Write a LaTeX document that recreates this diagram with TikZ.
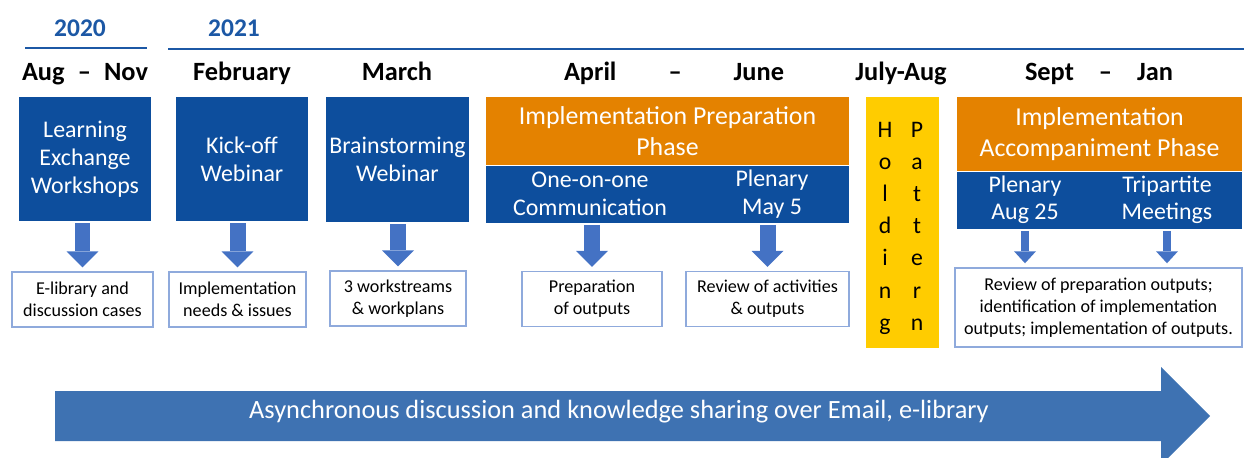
\documentclass[tikz,border=0pt]{standalone}
\usepackage{fontspec}
\setmainfont{Carlito}
\usetikzlibrary{arrows.meta, positioning}

\definecolor{boxblue}{RGB}{13,78,157}
\definecolor{phaseorange}{RGB}{228,130,0}
\definecolor{holdyellow}{RGB}{255,204,0}
\definecolor{arrowblue}{RGB}{68,114,196}
\definecolor{sharefill}{RGB}{62,114,178}
\definecolor{outblue}{RGB}{143,170,220}
\definecolor{yearblue}{RGB}{28,88,165}

\begin{document}
\begin{tikzpicture}[x=0.02cm, y=-0.02cm,
    year/.style={font=\fontsize{14.5}{16}\selectfont\bfseries, text=yearblue},
    month/.style={anchor=base, font=\fontsize{15}{17}\selectfont\bfseries},
    event/.style={rectangle, fill=boxblue, text=white, align=center, inner sep=0pt, font=\fontsize{13.6}{15.9}\selectfont},
    phase/.style={rectangle, fill=phaseorange, text=white, align=center, inner sep=0pt, font=\fontsize{14.7}{18}\selectfont},
    band/.style={rectangle, fill=boxblue, inner sep=0pt, minimum height=1.14cm},
    sub/.style={text=white, align=center, inner sep=0pt, font=\fontsize{13.6}{15.6}\selectfont},
    result/.style={rectangle, draw=outblue, line width=0.8pt, fill=white, align=center, inner sep=0pt, minimum height=1.1cm, font=\fontsize{10.3}{12.4}\selectfont},
    letter/.style={anchor=base, inner sep=0pt, font=\fontsize{13.5}{15}\selectfont},
    down/.style={draw=arrowblue, line width=0.32cm, shorten <=1pt, shorten >=2.3pt,
        -{Triangle[length=0.32cm, width=0.64cm, line width=0pt, fill=arrowblue]}},
    downthin/.style={draw=arrowblue, line width=0.16cm, shorten <=1pt, shorten >=2.3pt,
        -{Triangle[length=0.24cm, width=0.44cm, line width=0pt, fill=arrowblue]}}
]
    \useasboundingbox (0,0) rectangle (1244,457);

    % Years
    \node[year] (y20) at (80,28) {2020};
    \node[year] (y21) at (234,28) {2021};
    \draw[yearblue, line width=0.04cm] (25,48) -- (147,48);
    \draw[yearblue, line width=0.04cm] (168,49) -- (1244,49);

    % Months
    \node[month] (mAug) at (85,80) {\makebox[2.52cm]{Aug\hfill–\hfill Nov}};
    \node[month] (mFeb) at (242,80) {February};
    \node[month] (mMar) at (397,80) {March};
    \node[month] (mApr) at (674,80) {\makebox[4.4cm]{April\hfill–\hfill June}};
    \node[month] (mJul) at (901,80) {July-Aug};
    \node[month] (mSep) at (1099,80) {\makebox[2.96cm]{Sept\hfill–\hfill Jan}};

    % Events
    \node[event, minimum width=2.64cm, minimum height=2.48cm] (learn) at (85,159) {Learning\\Exchange\\Workshops};
    \node[event, minimum width=2.64cm, minimum height=2.48cm] (kick) at (242,159) {Kick-off\\Webinar};
    \node[event, minimum width=2.86cm, minimum height=2.5cm] (brain) at (397.5,159.5) {Brainstorming\\Webinar};

    % Preparation phase
    \node[phase, minimum width=7.26cm, minimum height=1.36cm] (prep) at (667.5,131) {Implementation Preparation\\Phase};
    \node[band, minimum width=7.26cm, below=0pt of prep] (prepband) {};
    \node[sub] (oneone) at (590,194) {One-on-one\\Communication};
    \node[sub] (plenA) at (772,194) {Plenary\\May 5};

    % Holding pattern
    \node[rectangle, fill=holdyellow, minimum width=1.46cm, minimum height=5.02cm] (hold) at (902.5,222.5) {};
    \foreach \c [count=\i from 0] in {H,o,l,d,i,n,g}
        \node[letter] (hl\i) at (885,137+32.2*\i) {\c};
    \foreach \c [count=\i from 0] in {P,a,t,t,e,r,n}
        \node[letter] (pl\i) at (917,137+32.2*\i) {\c};

    % Accompaniment phase
    \node[phase, minimum width=5.7cm, minimum height=1.48cm] (accomp) at (1099.5,134) {Implementation\\Accompaniment Phase};
    \node[band, minimum width=5.7cm, below=0pt of accomp] (accband) {};
    \node[sub] (plenB) at (1025,200) {Plenary\\Aug 25};
    \node[sub] (tri) at (1167,200) {Tripartite\\Meetings};

    % Results
    \node[result, minimum width=2.82cm] (elib) at (82.5,299.5) {E-library and\\discussion cases};
    \node[result, minimum width=2.74cm] (needs) at (237.5,299.5) {Implementation\\needs \& issues};
    \node[result, minimum width=2.72cm] (streams) at (398,298.5) {3 workstreams\\\& workplans};
    \node[result, minimum width=2.8cm] (outputs) at (592,299) {Preparation\\of outputs};
    \node[result, minimum width=3.26cm] (review) at (767.5,299) {Review of activities\\\& outputs};
    \node[result, minimum width=5.74cm, minimum height=1.58cm] (final) at (1098.5,307.5) {Review of preparation outputs;\\identification of implementation\\outputs; implementation of outputs.};

    % Down arrows
    \draw[down] (elib |- learn.south) -- (elib.north);
    \draw[down] (needs |- kick.south) -- (needs.north);
    \draw[down] (streams |- brain.south) -- (streams.north);
    \draw[down] (outputs |- prepband.south) -- (outputs.north);
    \draw[down] (review |- prepband.south) -- (review.north);
    \draw[downthin] (plenB |- accband.south) -- (plenB |- final.north);
    \draw[downthin] (tri |- accband.south) -- (tri |- final.north);

    % Sharing arrow
    \fill[sharefill] (55,391) -- (1161,391) -- (1161,367) -- (1210,416) -- (1161,465) -- (1161,441) -- (55,441) -- cycle;
    \node[anchor=base, text=white, font=\fontsize{15}{17}\selectfont] (share) at (619,418) {Asynchronous discussion and knowledge sharing over Email, e-library};
\end{tikzpicture}
\end{document}
